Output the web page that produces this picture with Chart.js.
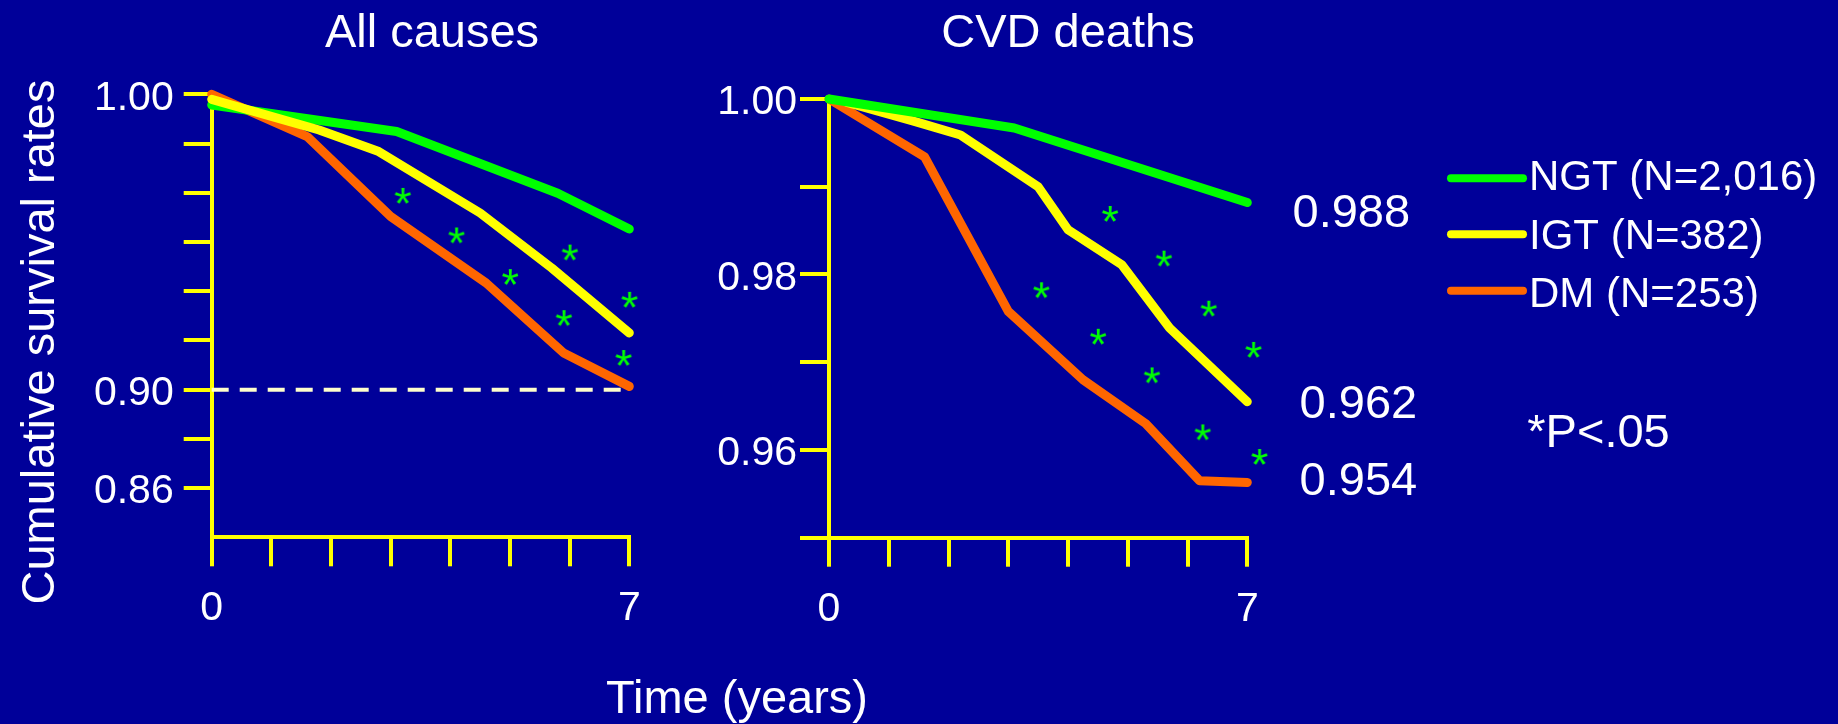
<!DOCTYPE html>
<html>
<head>
<meta charset="utf-8">
<script src="https://cdn.jsdelivr.net/npm/chart.js@4.4.1/dist/chart.umd.min.js"></script>
<style>
  body { margin: 0; background: #000099; }
  canvas { position: absolute; left: 0; top: 0; }
</style>
</head>
<body>
<canvas id="allChart" width="1838" height="724"></canvas>
<canvas id="cvdChart" width="1838" height="724"></canvas>
<script>
// series labels and colours
const seriesNames = ['NGT (N=2,016)', 'IGT (N=382)', 'DM (N=253)'];
const seriesColors = ['#00ff00', '#ffff00', '#ff6600'];

// All causes panel (time in years, cumulative survival)
const allNgtT = [0, 3.1, 5.8, 7];
const allNgt = [0.9964, 0.9874, 0.9665, 0.9544];
const allIgtT = [0, 1.8, 2.8, 4.5, 5.7, 7];
const allIgt = [0.9983, 0.9879, 0.9806, 0.9598, 0.9412, 0.9192];
const allDmT = [0, 1.6, 3.0, 4.6, 5.9, 7];
const allDm = [1.0, 0.9857, 0.9586, 0.9361, 0.9124, 0.9011];
const allStarT = [3.2, 4.1, 5.0, 6.0, 5.9, 7.0, 6.9];
const allStar = [0.9656, 0.9522, 0.9381, 0.9464, 0.9242, 0.9304, 0.9107];
const refT = [0, 6.86];
const refY = [0.90, 0.90];

// CVD deaths panel
const cvdNgtT = [0, 3.1, 7];
const cvdNgt = [1.0, 0.9967, 0.9882];
const cvdIgtT = [0.3, 1.4, 2.2, 3.5, 4.0, 4.9, 5.7, 7];
const cvdIgt = [0.9996, 0.9975, 0.9959, 0.9900, 0.9851, 0.9811, 0.9739, 0.9655];
const cvdDmT = [0, 1.6, 3.0, 4.25, 5.3, 6.2, 7];
const cvdDm = [1.0, 0.9934, 0.9758, 0.9680, 0.9630, 0.9565, 0.9563];
const cvdStarT = [4.7, 5.6, 6.35, 7.1, 3.55, 4.5, 5.4, 6.25, 7.2];
const cvdStar = [0.9869, 0.9818, 0.9761, 0.9714, 0.9782, 0.9729, 0.9685, 0.9620, 0.9592];
const endLabels = ['0.988', '0.962', '0.954'];

// ticks
const xTicks = [0, 1, 2, 3, 4, 5, 6, 7];
const xLabels = ['0', '', '', '', '', '', '', '7'];
const allYTicks = [1.0, 0.98333, 0.96667, 0.95, 0.93333, 0.91667, 0.90, 0.88333, 0.86667];
const allYLabels = ['1.00', '', '', '', '', '', '0.90', '', '0.86'];
const cvdYTicks = [1.00, 0.99, 0.98, 0.97, 0.96, 0.95];
const cvdYLabels = ['1.00', '', '0.98', '', '0.96', ''];

const axisColor = '#ffff00';
const fontFam = '"Liberation Sans", Arial, sans-serif';
Chart.defaults.font.family = fontFam;
Chart.defaults.color = '#ffffff';

function pts(xs, ys) {
  return xs.map((x, i) => ({ x: x, y: ys[i] }));
}

function makeStar() {
  const c = document.createElement('canvas');
  c.width = 30; c.height = 30;
  const g = c.getContext('2d');
  g.font = '45px ' + fontFam;
  g.fillStyle = '#00ff00';
  const m = g.measureText('*');
  const w = m.actualBoundingBoxLeft + m.actualBoundingBoxRight;
  const h = m.actualBoundingBoxAscent + m.actualBoundingBoxDescent;
  g.fillText('*', 15 - w / 2 + m.actualBoundingBoxLeft, 15 - h / 2 + m.actualBoundingBoxAscent);
  return c;
}
const star = makeStar();

function lineSet(label, xs, ys, color, order) {
  return {
    label: label, data: pts(xs, ys), borderColor: color, borderWidth: 9,
    pointRadius: 0, borderCapStyle: 'round', borderJoinStyle: 'round',
    tension: 0, clip: false, fill: false, order: order
  };
}
function starSet(xs, ys) {
  return { label: '*', data: pts(xs, ys), showLine: false, pointStyle: star, pointRadius: 15, clip: false, order: 0 };
}

function axes(yMin, yTicks, yLabels, yWidth, tickLen, yPad) {
  return {
    x: {
      type: 'linear', min: 0, max: 7,
      afterBuildTicks: s => { s.ticks = xTicks.map(v => ({ value: v })); },
      afterFit: s => { s.height = 100; },
      border: { display: true, color: axisColor, width: 4 },
      grid: { drawOnChartArea: false, color: axisColor, lineWidth: 4, tickLength: 29 },
      ticks: { autoSkip: false, maxRotation: 0, padding: 18, color: '#fff', font: { size: 41 },
        callback: (v, i) => xLabels[i] }
    },
    y: {
      type: 'linear', min: yMin, max: 1.0,
      afterBuildTicks: s => { s.ticks = yTicks.map(v => ({ value: v })); },
      afterFit: s => { s.width = yWidth; },
      border: { display: true, color: axisColor, width: 4 },
      grid: { drawOnChartArea: false, color: axisColor, lineWidth: 4, tickLength: tickLen },
      ticks: { autoSkip: false, padding: yPad, labelOffset: 4, color: '#fff', font: { size: 41 },
        callback: (v, i) => yLabels[i] }
    }
  };
}

function txt(ctx, s, x, y, size, align) {
  ctx.font = size + 'px ' + fontFam;
  ctx.fillStyle = '#ffffff';
  ctx.textAlign = align;
  ctx.textBaseline = 'alphabetic';
  ctx.fillText(s, x, y);
}

new Chart(document.getElementById('allChart'), {
  type: 'line',
  data: {
    datasets: [
      starSet(allStarT, allStar),
      lineSet(seriesNames[1], allIgtT, allIgt, seriesColors[1], 1),
      lineSet(seriesNames[0], allNgtT, allNgt, seriesColors[0], 2),
      lineSet(seriesNames[2], allDmT, allDm, seriesColors[2], 3),
      Object.assign(lineSet('0.90', refT, refY, '#ffffcc', 4), { borderWidth: 4, borderDash: [17, 11], borderCapStyle: 'butt' })
    ]
  },
  options: {
    responsive: false, animation: false,
    layout: { padding: { left: 0, top: 94.3, right: 1208.7, bottom: 86.7 } },
    plugins: { legend: { display: false }, tooltip: { enabled: false } },
    scales: axes(0.85, allYTicks, allYLabels, 211.7, 28, 10)
  },
  plugins: [{
    id: 'allTexts',
    afterDraw(chart) {
      const ctx = chart.ctx;
      ctx.save();
      txt(ctx, 'All causes', 432, 46.7, 47, 'center');
      txt(ctx, 'Time (years)', 737, 713.3, 47, 'center');
      ctx.translate(54, 342);
      ctx.rotate(-Math.PI / 2);
      txt(ctx, 'Cumulative survival rates', 0, 0, 47, 'center');
      ctx.restore();
    }
  }]
});

new Chart(document.getElementById('cvdChart'), {
  type: 'line',
  data: {
    datasets: [
      starSet(cvdStarT, cvdStar),
      lineSet(seriesNames[0], cvdNgtT, cvdNgt, seriesColors[0], 1),
      lineSet(seriesNames[1], cvdIgtT, cvdIgt, seriesColors[1], 2),
      lineSet(seriesNames[2], cvdDmT, cvdDm, seriesColors[2], 3)
    ]
  },
  options: {
    responsive: false, animation: false,
    layout: { padding: { left: 0, top: 99, right: 590.7, bottom: 86.3 } },
    plugins: { legend: { display: false }, tooltip: { enabled: false } },
    scales: axes(0.95, cvdYTicks, cvdYLabels, 829, 29, 3)
  },
  plugins: [{
    id: 'cvdTexts',
    afterDraw(chart) {
      const ctx = chart.ctx;
      ctx.save();
      txt(ctx, 'CVD deaths', 1068, 46.7, 47, 'center');
      txt(ctx, endLabels[0], 1292.5, 226.7, 47, 'left');
      txt(ctx, endLabels[1], 1299.6, 418.3, 47, 'left');
      txt(ctx, endLabels[2], 1299.6, 494.7, 47, 'left');
      // legend
      const lineY = [178.3, 234.3, 290.7];
      const textY = [190, 249, 306.7];
      ctx.lineCap = 'round';
      ctx.lineWidth = 8;
      seriesNames.forEach((n, i) => {
        ctx.strokeStyle = seriesColors[i];
        ctx.beginPath();
        ctx.moveTo(1451, lineY[i]);
        ctx.lineTo(1523, lineY[i]);
        ctx.stroke();
        txt(ctx, n, 1529, textY[i], 42, 'left');
      });
      txt(ctx, '*P<.05', 1527.3, 446.7, 47, 'left');
      ctx.restore();
    }
  }]
});
</script>
</body>
</html>
